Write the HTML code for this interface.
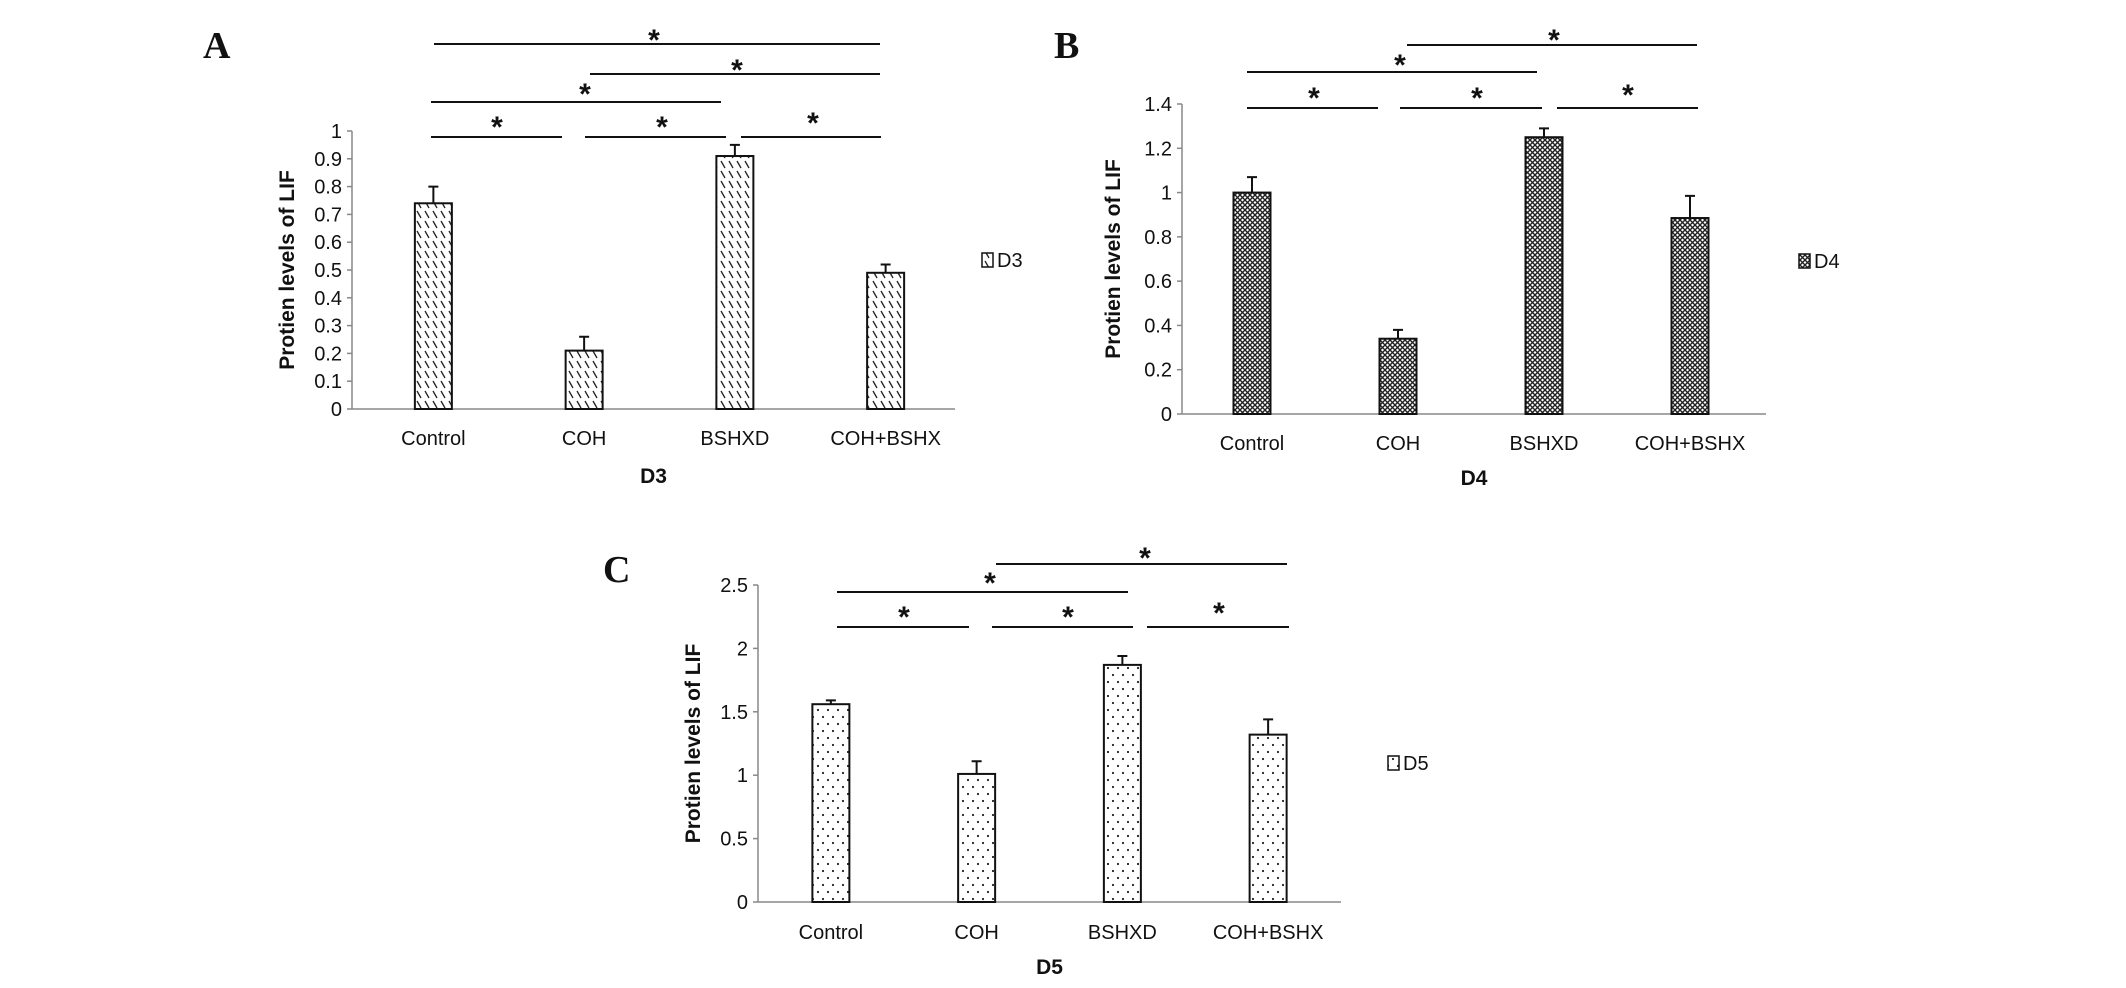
<!DOCTYPE html>
<html><head><meta charset="utf-8"><style>
body{margin:0;background:#fff;}
svg{display:block;font-family:"Liberation Sans",Arial,sans-serif;}
.tick{font-size:20px;fill:#111;}
.cat{font-size:20px;fill:#111;}
.ttl{font-size:21px;font-weight:bold;fill:#111;}
.star{font-size:30px;font-weight:bold;fill:#111;}
.let{font-family:"Liberation Serif",serif;font-size:38px;font-weight:bold;fill:#111;}
</style></head><body>
<svg id="fig" width="2126" height="988" viewBox="0 0 2126 988" xmlns="http://www.w3.org/2000/svg">
<defs>
<pattern id="patA" width="8" height="10" patternUnits="userSpaceOnUse"><rect width="8" height="10" fill="#fff"/><path d="M1 1 L5 8" stroke="#222" stroke-width="1.3"/></pattern>
<pattern id="patB" width="5" height="5" patternUnits="userSpaceOnUse"><rect width="5" height="5" fill="#fff"/><path d="M0 0 L5 5 M5 0 L0 5" stroke="#222" stroke-width="1.4"/></pattern>
<pattern id="patC" width="10" height="14" patternUnits="userSpaceOnUse"><rect width="10" height="14" fill="#fff"/><circle cx="3" cy="3" r="1.1" fill="#222"/><circle cx="8" cy="10" r="1.1" fill="#222"/></pattern>
</defs>
</svg>
<script>
const categories = ["Control","COH","BSHXD","COH+BSHX"];
const valuesD3 = [0.74, 0.21, 0.91, 0.49];
const errorsD3 = [0.06, 0.05, 0.04, 0.03];
const ticksD3 = ["0","0.1","0.2","0.3","0.4","0.5","0.6","0.7","0.8","0.9","1"];
const valuesD4 = [1.0, 0.34, 1.25, 0.885];
const errorsD4 = [0.07, 0.04, 0.04, 0.10];
const ticksD4 = ["0","0.2","0.4","0.6","0.8","1","1.2","1.4"];
const valuesD5 = [1.56, 1.01, 1.87, 1.32];
const errorsD5 = [0.03, 0.10, 0.07, 0.12];
const ticksD5 = ["0","0.5","1","1.5","2","2.5"];

const NS = "http://www.w3.org/2000/svg";
const svg = document.getElementById('fig');
function mk(tag, attrs, parent, text){
  const e = document.createElementNS(NS, tag);
  for (const k in attrs) e.setAttribute(k, attrs[k]);
  if (text !== undefined) e.textContent = text;
  (parent||svg).appendChild(e);
  return e;
}

const panels = [
 {id:'a', letter:'A', lx:203, ly:58, x0:352, x1:955, yTop:131, yZero:409, max:1, ticks:ticksD3, vals:valuesD3, errs:errorsD3, pat:'patA', bw:37, catOff:6,
  ytx:286, catY:445, xt:'D3', xtY:483, legX:982, legY:253, legH:14,
  sig:[[434,880,44,654,35],[590,880,74,737,65],[431,721,102,585,89],[431,562,137,497,122],[585,726,137,662,122],[741,881,137,813,118]]},
 {id:'b', letter:'B', lx:1054, ly:58, x0:1182, x1:1766, yTop:104, yZero:414, max:1.4, ticks:ticksD4, vals:valuesD4, errs:errorsD4, pat:'patB', bw:37, catOff:-3,
  ytx:1112, catY:450, xt:'D4', xtY:485, legX:1799, legY:254, legH:14,
  sig:[[1407,1697,45,1554,35],[1247,1537,72,1400,60],[1247,1378,108,1314,93],[1400,1542,108,1477,93],[1557,1698,108,1628,90]]},
 {id:'c', letter:'C', lx:603, ly:582, x0:758, x1:1341, yTop:585, yZero:902, max:2.5, ticks:ticksD5, vals:valuesD5, errs:errorsD5, pat:'patC', bw:37, catOff:0,
  ytx:692, catY:939, xt:'D5', xtY:974, legX:1388, legY:756, legH:14,
  sig:[[996,1287,564,1145,553],[837,1128,592,990,578],[837,969,627,904,612],[992,1133,627,1068,612],[1147,1289,627,1219,608]]}
];

panels.forEach(p => {
  const g = mk('g', {});
  
  
  const yScale = v => p.yZero - (v / p.max) * (p.yZero - p.yTop);
  const band = (p.x1 - p.x0) / categories.length;
  const xc = i => p.x0 + band * (i + 0.5) + p.catOff;

  const L = mk('text', {x:p.lx, y:p.ly, class:'let'}, g, p.letter);
  
  

  const ya = mk('line', {x1:p.x0, y1:p.yTop, x2:p.x0, y2:p.yZero, stroke:'#888', 'stroke-width':1.5}, g);
  
  
  const xa = mk('line', {x1:p.x0, y1:p.yZero, x2:p.x1, y2:p.yZero, stroke:'#888', 'stroke-width':1.5}, g);
  
  

  p.ticks.forEach((t, i) => {
    const v = parseFloat(t);
    const y = yScale(v);
    mk('line', {x1:p.x0-5, y1:y, x2:p.x0, y2:y, stroke:'#888', 'stroke-width':1.5}, g);
    const tl = mk('text', {x:p.x0-10, y:y+7, class:'tick', 'text-anchor':'end'}, g, t);
    
    
  });

  const yt = mk('text', {x:0, y:0, class:'ttl', 'text-anchor':'middle', transform:`translate(${p.ytx+8},${(p.yTop+p.yZero)/2}) rotate(-90)`}, g, 'Protien levels of LIF');
  
  

  categories.forEach((c, i) => {
    const cx = xc(i);
    const y = yScale(p.vals[i]);
    const b = mk('rect', {x:cx-p.bw/2, y:y, width:p.bw, height:p.yZero-y, fill:`url(#${p.pat})`, stroke:'#111', 'stroke-width':2}, g);
    
    
    const ye = yScale(p.vals[i] + p.errs[i]);
    const e = mk('path', {d:`M${cx} ${y} V${ye} M${cx-5} ${ye} H${cx+5}`, stroke:'#111', 'stroke-width':2, fill:'none'}, g);
    
    
    const cl = mk('text', {x:cx, y:p.catY, class:'cat', 'text-anchor':'middle'}, g, c);
    
    
  });

  const xt = mk('text', {x:(p.x0+p.x1)/2, y:p.xtY, class:'ttl', 'text-anchor':'middle'}, g, p.xt);
  
  

  const lg = mk('g', {}, g);
  
  
  mk('rect', {x:p.legX, y:p.legY, width:11, height:p.legH, fill:`url(#${p.pat})`, stroke:'#111', 'stroke-width':1.5}, lg);
  mk('text', {x:p.legX+15, y:p.legY+p.legH/2+7, class:'cat'}, lg, p.xt);

  p.sig.forEach(s => {
    const sl = mk('line', {x1:s[0], y1:s[2], x2:s[1], y2:s[2], stroke:'#111', 'stroke-width':2}, g);
    
    
    const st = mk('text', {x:s[3], y:s[4]+15, class:'star', 'text-anchor':'middle'}, g, '*');
    
    
  });
});
</script>
</body></html>
